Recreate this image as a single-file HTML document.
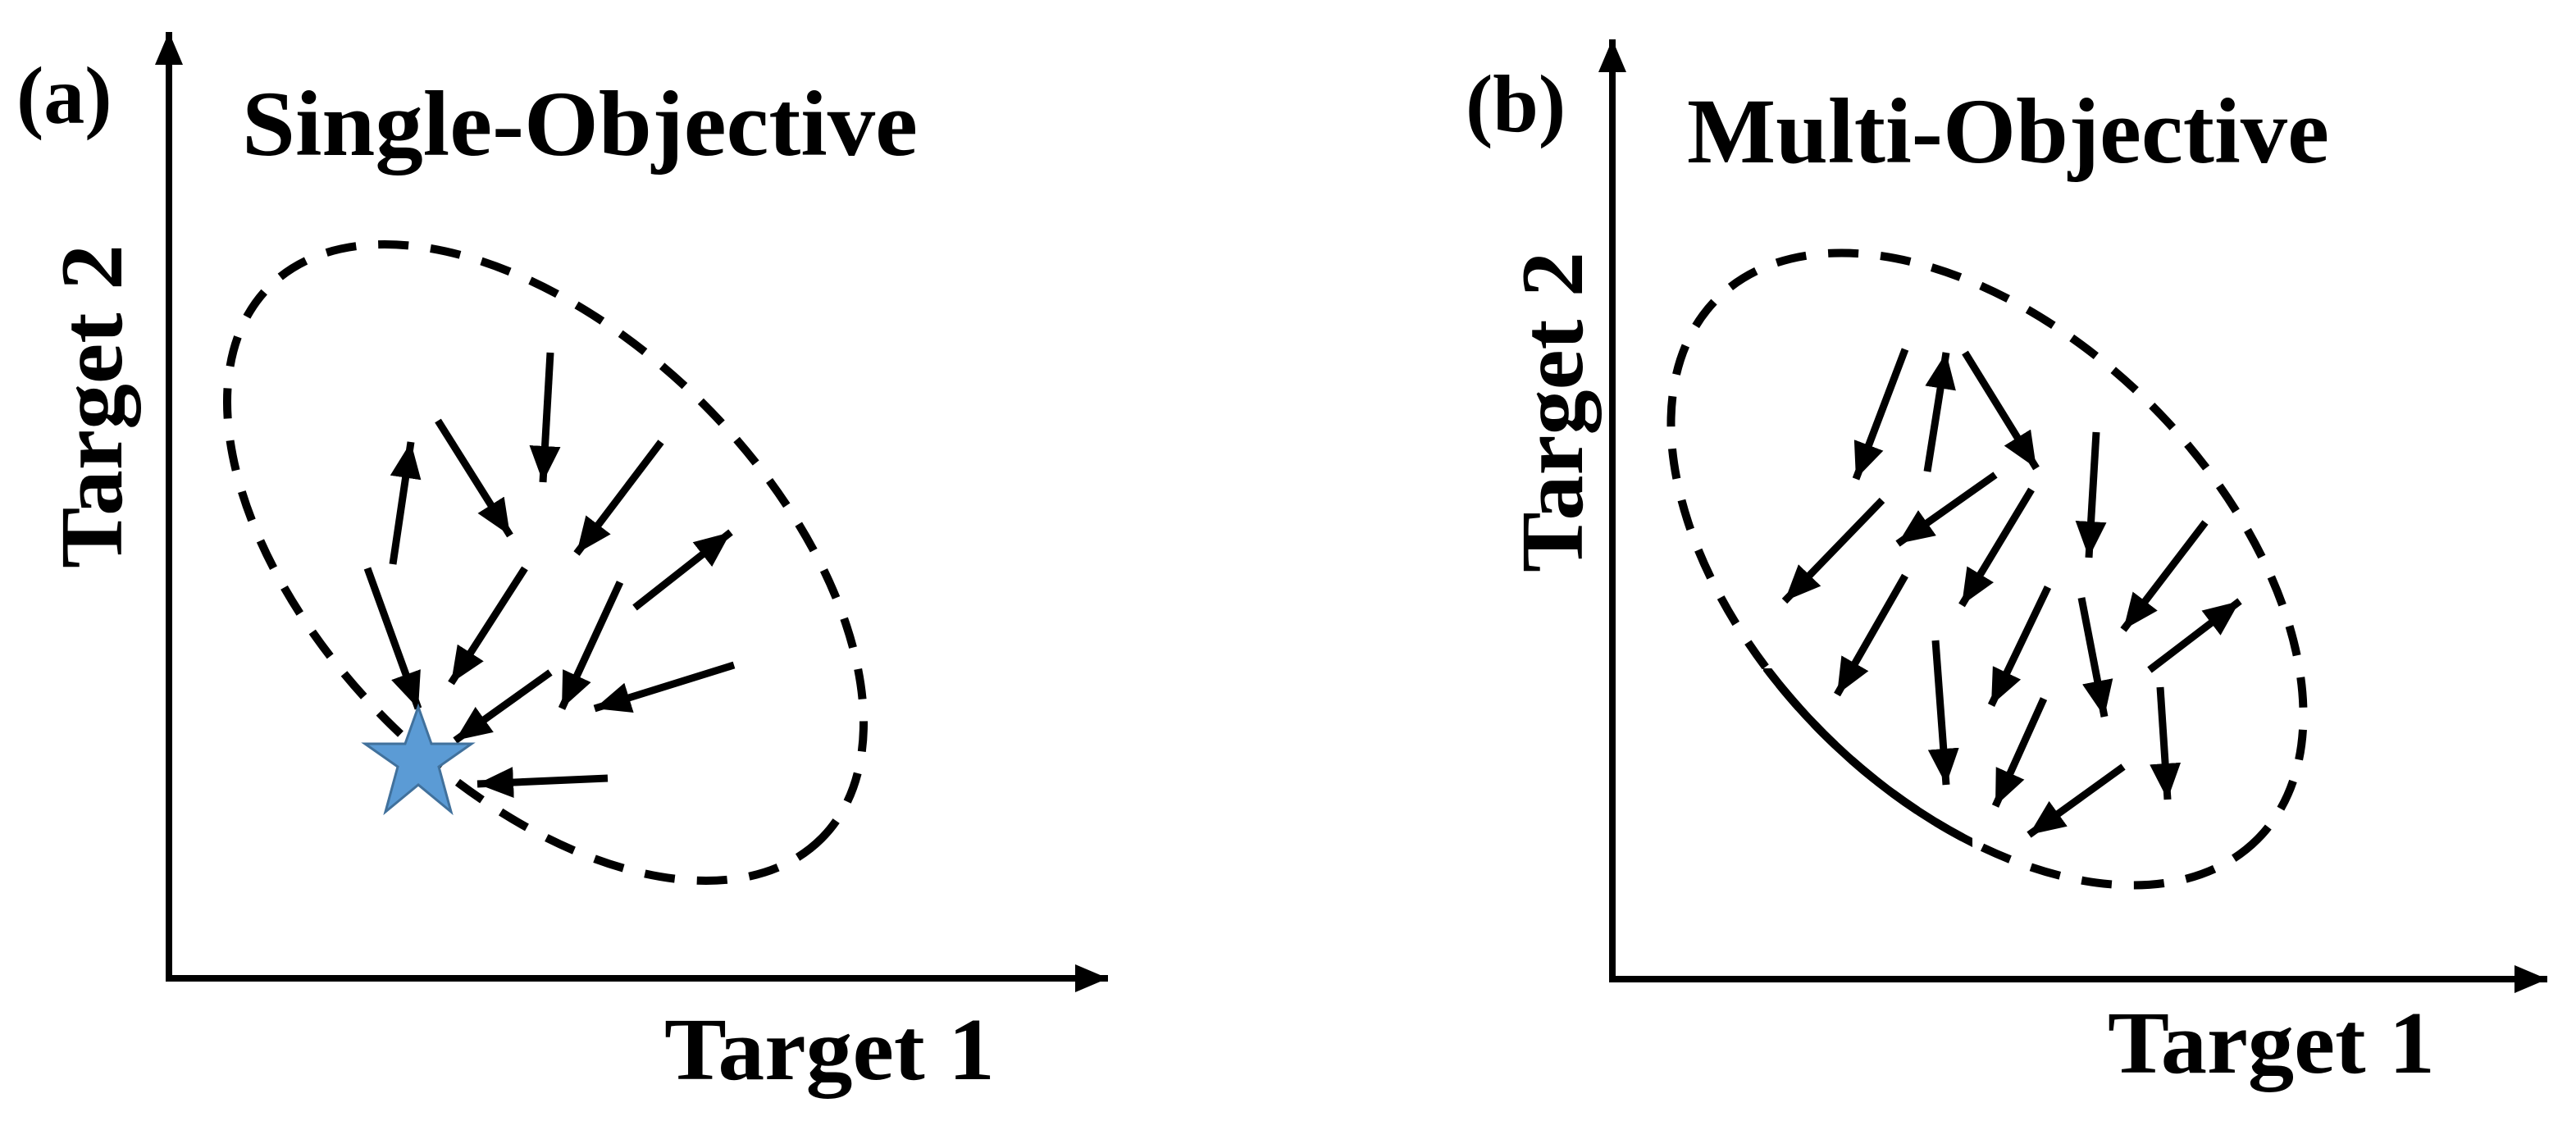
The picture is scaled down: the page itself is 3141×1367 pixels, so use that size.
<!DOCTYPE html>
<html><head><meta charset="utf-8"><style>
html,body{margin:0;padding:0;background:#fff;}
svg{display:block;}
text{font-family:"Liberation Serif",serif;font-weight:bold;fill:#000;}
</style></head><body>
<svg width="3141" height="1367" viewBox="0 0 3141 1367" xmlns="http://www.w3.org/2000/svg">
<defs>
<marker id="ah" markerUnits="userSpaceOnUse" markerWidth="48" markerHeight="38" refX="44" refY="19" orient="auto">
<path d="M0,0 L44,19 L0,38 Z" fill="#000"/>
</marker>
<marker id="ax" markerUnits="userSpaceOnUse" markerWidth="44" markerHeight="34" refX="40" refY="17" orient="auto">
<path d="M0,0 L40,17 L0,34 Z" fill="#000"/>
</marker>
<clipPath id="arcclip"><rect x="2150" y="815" width="255" height="230"/></clipPath>
</defs>

<!-- Panel a -->
<line x1="206" y1="1193" x2="206" y2="39" stroke="#000" stroke-width="8" marker-end="url(#ax)"/>
<line x1="202" y1="1193" x2="1351" y2="1193" stroke="#000" stroke-width="8" marker-end="url(#ax)"/>
<text x="20" y="150" font-size="100">(a)</text>
<text x="295" y="189" font-size="113" textLength="824" lengthAdjust="spacingAndGlyphs">Single-Objective</text>
<text x="810" y="1316" font-size="108" textLength="403" lengthAdjust="spacingAndGlyphs">Target 1</text>
<text transform="translate(148,693) rotate(-90)" x="0" y="0" font-size="108" textLength="395" lengthAdjust="spacingAndGlyphs">Target 2</text>

<ellipse cx="665" cy="686" rx="476" ry="273" transform="rotate(45 665 686)" fill="none" stroke="#000" stroke-width="10" stroke-dasharray="37 27"/>

<g stroke="#000" stroke-width="9" marker-end="url(#ah)">
<line x1="671" y1="430" x2="662" y2="588"/>
<line x1="534" y1="513" x2="622" y2="653"/>
<line x1="479" y1="688" x2="501" y2="539"/>
<line x1="806" y1="539" x2="703" y2="675"/>
<line x1="774" y1="741" x2="891" y2="649"/>
<line x1="640" y1="693" x2="550" y2="833"/>
<line x1="756" y1="710" x2="685" y2="864"/>
<line x1="448" y1="693" x2="510" y2="864"/>
<line x1="671" y1="820" x2="555" y2="903"/>
<line x1="895" y1="811" x2="725" y2="864"/>
<line x1="741" y1="949" x2="582" y2="956"/>
</g>

<polygon points="510,862 526,907 575,907 535,935 550,990 510,957 470,990 485,935 445,907 494,907" fill="#5b9bd5" stroke="#41719c" stroke-width="3"/>

<!-- Panel b -->
<line x1="1966" y1="1194" x2="1966" y2="48" stroke="#000" stroke-width="8" marker-end="url(#ax)"/>
<line x1="1962" y1="1194" x2="3106" y2="1194" stroke="#000" stroke-width="8" marker-end="url(#ax)"/>
<text x="1787" y="160" font-size="100">(b)</text>
<text x="2057" y="198" font-size="113" textLength="783" lengthAdjust="spacingAndGlyphs">Multi-Objective</text>
<text x="2570" y="1308" font-size="108" textLength="399" lengthAdjust="spacingAndGlyphs">Target 1</text>
<text transform="translate(1929,698) rotate(-90)" x="0" y="0" font-size="108" textLength="391" lengthAdjust="spacingAndGlyphs">Target 2</text>

<ellipse cx="2423" cy="694" rx="466" ry="283" transform="rotate(45 2423 694)" fill="none" stroke="#000" stroke-width="10" stroke-dasharray="37 27"/>
<g clip-path="url(#arcclip)">
<ellipse cx="2423" cy="694" rx="466" ry="283" transform="rotate(45 2423 694)" fill="none" stroke="#000" stroke-width="10"/>
</g>

<g stroke="#000" stroke-width="9" marker-end="url(#ah)">
<line x1="2323" y1="426" x2="2263" y2="584"/>
<line x1="2350" y1="575" x2="2373" y2="430"/>
<line x1="2396" y1="430" x2="2483" y2="571"/>
<line x1="2556" y1="527" x2="2547" y2="680"/>
<line x1="2433" y1="579" x2="2314" y2="663"/>
<line x1="2295" y1="610" x2="2176" y2="733"/>
<line x1="2477" y1="597" x2="2392" y2="738"/>
<line x1="2689" y1="637" x2="2589" y2="768"/>
<line x1="2323" y1="702" x2="2240" y2="847"/>
<line x1="2497" y1="716" x2="2428" y2="860"/>
<line x1="2538" y1="729" x2="2566" y2="874"/>
<line x1="2621" y1="817" x2="2731" y2="733"/>
<line x1="2360" y1="781" x2="2373" y2="957"/>
<line x1="2492" y1="852" x2="2433" y2="983"/>
<line x1="2634" y1="838" x2="2643" y2="975"/>
<line x1="2589" y1="935" x2="2474" y2="1018"/>
</g>
</svg>
</body></html>
